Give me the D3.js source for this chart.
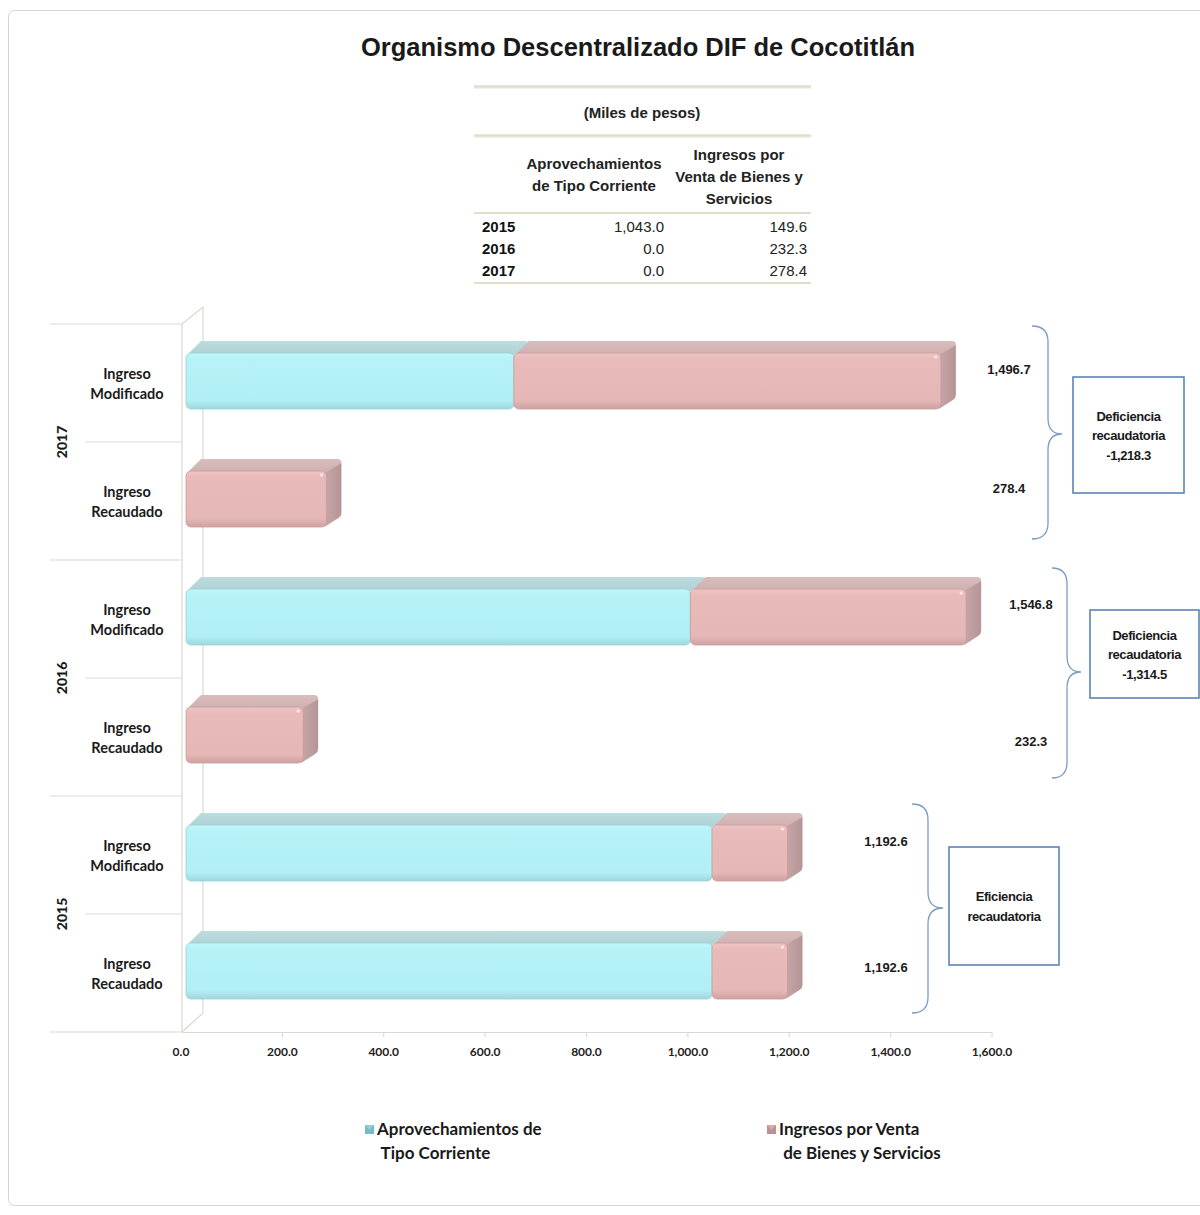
<!DOCTYPE html>
<html><head><meta charset="utf-8">
<script src="https://cdn.jsdelivr.net/npm/d3@7"></script>
<style>
html,body{margin:0;padding:0;background:#fff;}
svg{display:block;}
</style></head>
<body><svg id="chart" width="1200" height="1215"></svg>
<script>
// ---------- DATA ----------
const years = ["2017", "2016", "2015"];
const rowKinds = ["Ingreso Modificado", "Ingreso Recaudado"];
const rowIds = ["2017-Mod", "2017-Rec", "2016-Mod", "2016-Rec", "2015-Mod", "2015-Rec"];
const aprovechamientos = [650.0, 0.0, 1000.0, 0.0, 1043.0, 1043.0];
const ventasBienes   = [846.7, 278.4, 546.8, 232.3, 149.6, 149.6];
const seriesNames = ["Aprovechamientos de Tipo Corriente", "Ingresos por Venta de Bienes y Servicios"];
const xTicks = [0, 200, 400, 600, 800, 1000, 1200, 1400, 1600];

const tableYears = ["2015", "2016", "2017"];
const tableAprov = [1043.0, 0.0, 0.0];
const tableVentas = [149.6, 232.3, 278.4];

const annotationLabels = ["Deficiencia\nrecaudatoria", "Deficiencia\nrecaudatoria", "Eficiencia\nrecaudatoria"];

// ---------- LAYOUT ----------
const svg = d3.select("#chart");
const locale = d3.formatLocale({ decimal: ".", thousands: ",", grouping: [3], currency: ["$", ""], minus: "-" });
const fmt = locale.format(",.1f");
const fontNarrow = "'Liberation Sans Narrow','Liberation Sans',Arial,sans-serif";
const fontArial = "'Liberation Sans',Arial,sans-serif";
const fontCal = "Lato,'Open Sans',sans-serif";

const defs = svg.append("defs");
function vgrad(id, stops) {
  const g = defs.append("linearGradient").attr("id", id).attr("x1", 0).attr("y1", 0).attr("x2", 0).attr("y2", 1);
  stops.forEach(s => g.append("stop").attr("offset", s[0]).attr("stop-color", s[1]));
}
function hgrad(id, stops) {
  const g = defs.append("linearGradient").attr("id", id).attr("x1", 0).attr("y1", 0).attr("x2", 1).attr("y2", 0);
  stops.forEach(s => g.append("stop").attr("offset", s[0]).attr("stop-color", s[1]));
}
vgrad("cyanFront", [[0, "#c0f6fb"], [0.12, "#b6f2f8"], [0.85, "#b2eef5"], [1, "#9fd8de"]]);
vgrad("pinkFront", [[0, "#f0c4c4"], [0.12, "#e9baba"], [0.85, "#e6b7b7"], [1, "#cfa0a0"]]);
vgrad("cyanTop", [[0, "#bcdcde"], [1, "#b0d2d5"]]);
vgrad("pinkTop", [[0, "#d9bcbc"], [1, "#cfb0b0"]]);
hgrad("pinkSide", [[0, "#c7a6a6"], [1, "#b49595"]]);

// outer frame
svg.append("rect").attr("x", 8.5).attr("y", 10.5).attr("width", 1205).attr("height", 1195)
  .attr("rx", 6).attr("fill", "#fff").attr("stroke", "#d4d4d4").attr("stroke-width", 1);

// title
svg.append("text").attr("x", 638).attr("y", 56).attr("text-anchor", "middle")
  .attr("font-family", fontArial).attr("font-weight", "bold").attr("font-size", 25.5)
  .attr("fill", "#1a1a1a").text("Organismo Descentralizado DIF de Cocotitlán");

// ---------- TABLE ----------
const tbl = svg.append("g");
const tblX0 = 474, tblX1 = 811;
[87, 136, 213, 283].forEach((y, i) => {
  tbl.append("line").attr("x1", tblX0).attr("x2", tblX1).attr("y1", y).attr("y2", y)
    .attr("stroke", "#e2e6d2").attr("stroke-width", i < 2 ? 3 : 2);
  tbl.append("line").attr("x1", tblX0).attr("x2", tblX1).attr("y1", y + (i < 2 ? -1 : 0)).attr("y2", y + (i < 2 ? -1 : 0))
    .attr("stroke", "#d3d8bd").attr("stroke-width", 0.8);
});
tbl.append("text").attr("x", 642).attr("y", 118).attr("text-anchor", "middle")
  .attr("font-family", fontNarrow).attr("font-weight", "bold").attr("font-size", 15).attr("fill", "#222")
  .text("(Miles de pesos)");
const hdr1 = ["Aprovechamientos", "de Tipo Corriente"];
hdr1.forEach((t, i) => tbl.append("text").attr("x", 594).attr("y", 169 + i * 22).attr("text-anchor", "middle")
  .attr("font-family", fontNarrow).attr("font-weight", "bold").attr("font-size", 15).attr("fill", "#222").text(t));
const hdr2 = ["Ingresos por", "Venta de Bienes y", "Servicios"];
hdr2.forEach((t, i) => tbl.append("text").attr("x", 739).attr("y", 160 + i * 22).attr("text-anchor", "middle")
  .attr("font-family", fontNarrow).attr("font-weight", "bold").attr("font-size", 15).attr("fill", "#222").text(t));
tableYears.forEach((yr, i) => {
  const y = 232 + i * 22;
  tbl.append("text").attr("x", 482).attr("y", y).attr("font-family", fontNarrow).attr("font-weight", "bold")
    .attr("font-size", 15).attr("fill", "#111").text(yr);
  tbl.append("text").attr("x", 664).attr("y", y).attr("text-anchor", "end").attr("font-family", fontNarrow)
    .attr("font-size", 15).attr("fill", "#222").text(fmt(tableAprov[i]));
  tbl.append("text").attr("x", 807).attr("y", y).attr("text-anchor", "end").attr("font-family", fontNarrow)
    .attr("font-size", 15).attr("fill", "#222").text(fmt(tableVentas[i]));
});

// ---------- CHART ----------
const xBar = d3.scaleLinear().domain([0, 1600]).range([186, 993]);
const xAxisScale = d3.scaleLinear().domain([0, 1600]).range([181, 992]);
const yBand = d3.scaleBand().domain(rowIds).range([324, 1032]);
const yYear = d3.scaleBand().domain(years).range([324, 1032]);
const DX = 15, DY = 12;          // 3D depth offset
const faceH = 56;                // front-face height

// back wall and floor
const wall = svg.append("g").attr("stroke", "#d9d9d2").attr("fill", "none").attr("stroke-width", 1.2);
wall.append("path").attr("d", `M182,1032 L182,324 L203,307 L203,1013 L182,1032`);
wall.append("line").attr("x1", 182).attr("x2", 992).attr("y1", 1032.5).attr("y2", 1032.5);
// axis ticks + labels
const axisG = svg.append("g");
xTicks.forEach(t => {
  const xx = xAxisScale(t);
  if (t > 0) axisG.append("line").attr("x1", xx).attr("x2", xx).attr("y1", 1032).attr("y2", 1037)
    .attr("stroke", "#d9d9d2").attr("stroke-width", 1.2);
  axisG.append("text").attr("x", xx).attr("y", 1056).attr("text-anchor", "middle")
    .attr("font-family", fontCal).attr("font-weight", "bold").attr("font-size", 12).attr("fill", "#222")
    .text(fmt(t));
});

// category separators
const sepG = svg.append("g").attr("stroke", "#d9d9d9").attr("stroke-width", 1.2);
rowIds.forEach((id, i) => {
  const y = yBand(id);
  sepG.append("line").attr("x1", i % 2 === 0 ? 50 : 85).attr("x2", 182).attr("y1", y).attr("y2", y);
});
sepG.append("line").attr("x1", 50).attr("x2", 182).attr("y1", 1032).attr("y2", 1032);

// row labels
rowIds.forEach((id, i) => {
  const cy = yBand(id) + yBand.bandwidth() / 2;
  const parts = rowKinds[i % 2].split(" ");
  parts.forEach((p, k) => svg.append("text").attr("x", 127).attr("y", cy - 4 + k * 20)
    .attr("text-anchor", "middle").attr("font-family", fontCal).attr("font-weight", "bold")
    .attr("font-size", 14.5).attr("fill", "#1a1a1a").text(p));
});
// year labels
years.forEach(yr => {
  const cy = yYear(yr) + yYear.bandwidth() / 2;
  svg.append("text").attr("transform", `translate(67,${cy}) rotate(-90)`).attr("text-anchor", "middle")
    .attr("font-family", fontCal).attr("font-weight", "900").attr("font-size", 14).attr("fill", "#1a1a1a").text(yr);
});

// bars
const barsG = svg.append("g");
rowIds.forEach((id, i) => {
  const cy = yBand(id) + yBand.bandwidth() / 2 - 2;
  const y0 = cy - faceH / 2, y1 = cy + faceH / 2;
  const segs = [];
  let acc = 0;
  [aprovechamientos[i], ventasBienes[i]].forEach((v, s) => {
    if (v > 0) segs.push({ s, a: acc, b: acc + v });
    acc += v;
  });
  const g = barsG.append("g");
  segs.forEach(sg => {
    const xa = xBar(sg.a), xb = xBar(sg.b);
    g.append("path").attr("d", `M${xa + 3},${y0} L${xa + DX},${y0 - DY} L${xb + DX - 4},${y0 - DY} Q${xb + DX},${y0 - DY} ${xb + DX},${y0 - DY + 4} L${xb},${y0 + 2} Z`)
      .attr("fill", sg.s === 0 ? "url(#cyanTop)" : "url(#pinkTop)");
  });
  const last = segs[segs.length - 1];
  const xe = xBar(last.b);
  g.append("path").attr("d", `M${xe - 2},${y0 + 2} L${xe + DX},${y0 - DY + 4} L${xe + DX},${y1 - DY - 2} Q${xe + DX},${y1 - DY + 1} ${xe + DX - 3},${y1 - DY + 3} L${xe - 2},${y1}Z`)
    .attr("fill", "url(#pinkSide)");
  segs.forEach(sg => {
    const xa = xBar(sg.a), xb = xBar(sg.b);
    g.append("rect").attr("x", xa).attr("y", y0).attr("width", xb - xa).attr("height", faceH)
      .attr("rx", 5).attr("fill", sg.s === 0 ? "url(#cyanFront)" : "url(#pinkFront)")
      .attr("stroke", sg.s === 0 ? "#9ccfd4" : "#c99c9c").attr("stroke-width", 0.8);
  });
  if (last.s === 1) g.append("circle").attr("cx", xe - 5).attr("cy", y0 + 4).attr("r", 1.6).attr("fill", "#fbeaea");
});

// ---------- ANNOTATIONS ----------
const totals = rowIds.map((id, i) => aprovechamientos[i] + ventasBienes[i]);
const valueLabelX = [1009, 1009, 1031, 1031, 886, 886];
const valueLabelDy = [-9, -8, -10, 9, -9, -1];
rowIds.forEach((id, i) => {
  const cy = yBand(id) + yBand.bandwidth() / 2;
  svg.append("text").attr("x", valueLabelX[i]).attr("y", cy + valueLabelDy[i])
    .attr("text-anchor", "middle").attr("font-family", fontNarrow).attr("font-weight", "bold")
    .attr("font-size", 13).attr("fill", "#1a1a1a").text(fmt(totals[i]));
});

const braces = [
  { x0: 1032, x1: 1048, x2: 1062, yt: 326, ym: 434, yb: 539 },
  { x0: 1052, x1: 1067, x2: 1081, yt: 568, ym: 672, yb: 778 },
  { x0: 912, x1: 928, x2: 943, yt: 804, ym: 908, yb: 1013 }
];
const boxes = [
  { x: 1073, y: 377, w: 111, h: 116 },
  { x: 1090, y: 610, w: 109, h: 88 },
  { x: 949, y: 847, w: 110, h: 118 }
];
const annG = svg.append("g");
braces.forEach(b => {
  const r = 16;
  annG.append("path").attr("d",
    `M${b.x0},${b.yt} Q${b.x1},${b.yt} ${b.x1},${b.yt + r} L${b.x1},${b.ym - r} Q${b.x1},${b.ym} ${b.x2},${b.ym} ` +
    `Q${b.x1},${b.ym} ${b.x1},${b.ym + r} L${b.x1},${b.yb - r} Q${b.x1},${b.yb} ${b.x0},${b.yb}`)
    .attr("fill", "none").attr("stroke", "#7b9cc4").attr("stroke-width", 1.3);
});
const diffs = [totals[1] - totals[0], totals[3] - totals[2], totals[5] - totals[4]];
boxes.forEach((bx, k) => {
  annG.append("rect").attr("x", bx.x).attr("y", bx.y).attr("width", bx.w).attr("height", bx.h)
    .attr("fill", "#fff").attr("stroke", "#4f7cb3").attr("stroke-width", 1.5);
  const lines = annotationLabels[k].split("\n");
  if (Math.abs(diffs[k]) > 0.05) lines.push(fmt(diffs[k]));
  const cx = bx.x + bx.w / 2;
  const startY = bx.y + bx.h / 2 - (lines.length - 1) * 19.5 / 2 + 5;
  lines.forEach((t, j) => annG.append("text").attr("x", cx).attr("y", startY + j * 19.5)
    .attr("text-anchor", "middle").attr("font-family", fontNarrow).attr("font-weight", "bold")
    .attr("font-size", 13).attr("letter-spacing", -0.4)
    .attr("fill", "#1a1a1a").text(t));
});

// ---------- LEGEND ----------
const legend = [
  { x: 365, lines: ["Aprovechamientos de", " Tipo Corriente"], c1: "#8fd3da", c2: "#5fa9b1" },
  { x: 767, lines: ["Ingresos por Venta", " de Bienes y Servicios"], c1: "#d9aaaa", c2: "#a27c7c" }
];
legend.forEach((lg, k) => {
  const g = svg.append("g").attr("transform", `translate(${lg.x},1124)`);
  g.append("rect").attr("x", 0).attr("y", 1).attr("width", 9).attr("height", 9).attr("fill", lg.c1);
  g.append("path").attr("d", "M0,1 L4.5,6 L9,1 L9,10 L0,10Z").attr("fill", lg.c2).attr("opacity", 0.55);
  lg.lines.forEach((t, j) => g.append("text").attr("x", 12).attr("y", 11 + j * 24)
    .attr("font-family", fontCal).attr("font-weight", "bold").attr("font-size", 17)
    .attr("fill", "#1a1a1a").attr("xml:space", "preserve").style("white-space", "pre").text(t));
});
</script>
</body></html>
